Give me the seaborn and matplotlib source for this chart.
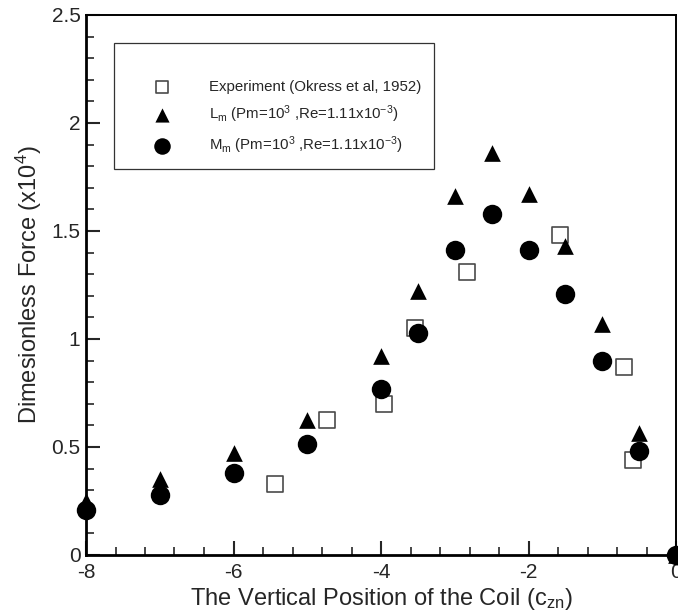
import numpy as np
import pandas as pd
import matplotlib
matplotlib.use("Agg")
import matplotlib.pyplot as plt
import seaborn as sns
from matplotlib.ticker import MultipleLocator

# Experiment (Okress et al, 1952)
exp_x = [-5.44, -4.73, -3.96, -3.54, -2.84, -1.57, -0.71, -0.58]
exp_y = [0.33, 0.625, 0.70, 1.05, 1.31, 1.48, 0.87, 0.44]

# Lm and Mm simulations
coil_x = [-8, -7, -6, -5, -4, -3.5, -3, -2.5, -2, -1.5, -1, -0.5, 0]
lm_y = [0.25, 0.35, 0.47, 0.625, 0.92, 1.22, 1.66, 1.86, 1.67, 1.43, 1.07, 0.566, 0.0]
mm_y = [0.21, 0.28, 0.38, 0.515, 0.77, 1.03, 1.41, 1.58, 1.41, 1.21, 0.90, 0.48, 0.0]

x_ticks = [-8, -6, -4, -2, 0]
y_ticks = [0, 0.5, 1, 1.5, 2, 2.5]

sns.set_style("white")
plt.rcParams['font.family'] = ['Liberation Sans', 'DejaVu Sans']
plt.rcParams['mathtext.fontset'] = 'custom'
plt.rcParams['mathtext.rm'] = 'Liberation Sans'
plt.rcParams['mathtext.it'] = 'Liberation Sans:italic'
plt.rcParams['mathtext.default'] = 'regular'

df_exp = pd.DataFrame({"x": exp_x, "y": exp_y})
df_sim = pd.DataFrame({"x": coil_x, "lm": lm_y, "mm": mm_y})

fig = plt.figure(figsize=(6.78, 6.15), dpi=100)
ax = fig.add_axes([86 / 678, 60 / 615, 590 / 678, 540 / 615])

sns.scatterplot(data=df_exp, x="x", y="y", ax=ax, marker="s", s=11 ** 2,
                facecolor="white", edgecolor="#4a4a4a", linewidth=1.2,
                label="Experiment (Okress et al, 1952)", clip_on=False, zorder=3)
sns.scatterplot(data=df_sim, x="x", y="lm", ax=ax, marker="^", s=12 ** 2,
                color="black", edgecolor="black", linewidth=0,
                label=r"L$_{m}$ (Pm=10$^{3}$ ,Re=1.11x10$^{-3}$)", clip_on=False, zorder=4)
sns.scatterplot(data=df_sim, x="x", y="mm", ax=ax, marker="o", s=14 ** 2,
                color="black", edgecolor="black", linewidth=0,
                label=r"M$_{m}$ (Pm=10$^{3}$ ,Re=1.11x10$^{-3}$)", clip_on=False, zorder=5)

ax.set_xlim(-8, 0)
ax.set_ylim(0, 2.5)
ax.set_xticks(x_ticks)
ax.set_xticklabels([f"{t:g}" for t in x_ticks])
ax.set_yticks(y_ticks)
ax.set_yticklabels([f"{t:g}" for t in y_ticks])
ax.xaxis.set_minor_locator(MultipleLocator(0.4))
ax.yaxis.set_minor_locator(MultipleLocator(0.1))

ax.tick_params(axis="both", which="major", direction="in", length=10, width=1.5,
               labelsize=15, top=False, right=False, bottom=True, left=True)
ax.tick_params(axis="x", which="major", pad=6)
ax.tick_params(axis="y", which="major", pad=4)
ax.tick_params(axis="both", which="minor", direction="in", length=6, width=1.2,
               top=False, right=False, bottom=True, left=True)
for side in ["left", "bottom"]:
    ax.spines[side].set_linewidth(2.0)
for side in ["top", "right"]:
    ax.spines[side].set_linewidth(1.4)
for sp in ax.spines.values():
    sp.set_color("black")

ax.set_xlabel(r"The Vertical Position of the Coil (c$_{zn}$)", fontsize=17, labelpad=3)
ax.set_ylabel(r"Dimesionless Force (x10$^{4}$)", fontsize=17, labelpad=5)

leg = ax.legend(loc="upper left", bbox_to_anchor=(28 / 590, 1 - 28 / 540),
                title=" ", title_fontsize=12, fontsize=10.8, frameon=True,
                fancybox=False, edgecolor="black", borderpad=0.85,
                labelspacing=0.62, handletextpad=0.75, borderaxespad=0,
                markerscale=0.85, handlelength=4.75)
leg.get_frame().set_linewidth(0.9)

fig.savefig("out.png", dpi=100)
